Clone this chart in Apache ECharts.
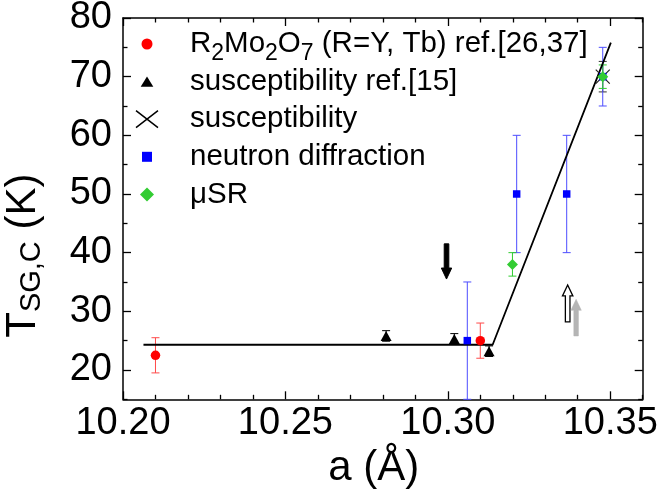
<!DOCTYPE html>
<html><head><meta charset="utf-8">
<script src="https://cdn.jsdelivr.net/npm/echarts@6/dist/echarts.min.js"></script>
<style>html,body{margin:0;padding:0;background:#fff}#c{width:660px;height:504px}</style>
</head><body><div id="c"></div>
<script>
// ---- tick values ----
const xMajorTicks = [10.20, 10.25, 10.30, 10.35];
const xMinorTicks = [10.21, 10.22, 10.23, 10.24, 10.26, 10.27, 10.28, 10.29, 10.31, 10.32, 10.33, 10.34, 10.36];
const yMajorTicks = [20, 30, 40, 50, 60, 70, 80];
const yMinorTicks = [15, 25, 35, 45, 55, 65, 75];

// ---- series names ----
const nameRmo = 'R2Mo2O7 (R=Y, Tb) ref.[26,37]';
const nameSusRef = 'susceptibility ref.[15]';
const nameSus = 'susceptibility';
const nameNeu = 'neutron diffraction';
const nameMusr = '\u03bcSR';

// ---- data: lattice constant a (Å), T (K), error (K) ----
const rmoA = [10.210, 10.310];
const rmoT = [22.5, 25.0];
const rmoErr = [3.0, 3.0];

const susRefA = [10.281, 10.302, 10.3127];
const susRefT = [25.8, 25.3, 23.2];
const susRefErr = [0.9, 0.9, 0.9];

const susA = [10.3477];
const susT = [70];
const susErr = [2.6];

const neuA = [10.306, 10.3212, 10.3366, 10.3477];
const neuT = [25, 50, 50, 70];
const neuErr = [10, 10, 10, 5];

const musrA = [10.3199, 10.3477];
const musrT = [38, 70];
const musrErr = [2, 2];

// guide line
const fitA = [10.2063, 10.3138, 10.3502];
const fitT = [24.3, 24.3, 75.8];

// arrows: a, T at tail, T at tip
const arrowA = [10.2996, 10.3369, 10.3395];
const arrowFrom = [41.5, 28.2, 25.8];
const arrowTo = [35.5, 34.5, 32.05];

// ---- build ----
const FONT = 'Liberation Sans, Arial, sans-serif';
const zip = (a, t, e) => a.map((v, i) => e ? [v, t[i], e[i]] : [v, t[i]]);

function errSeries(a, t, e, color) {
  return {
    type: 'custom', name: 'err', z: 2, silent: true,
    data: zip(a, t, e),
    encode: { x: 0, y: 1 },
    renderItem: function (params, api) {
      const x = api.value(0), y = api.value(1), d = api.value(2);
      const p1 = api.coord([x, y + d]), p2 = api.coord([x, y - d]);
      const hw = 4;
      const st = { stroke: color, lineWidth: 1 };
      return { type: 'group', children: [
        { type: 'line', shape: { x1: p1[0], y1: p1[1], x2: p2[0], y2: p2[1] }, style: st },
        { type: 'line', shape: { x1: p1[0] - hw, y1: p1[1], x2: p1[0] + hw, y2: p1[1] }, style: st },
        { type: 'line', shape: { x1: p2[0] - hw, y1: p2[1], x2: p2[0] + hw, y2: p2[1] }, style: st }
      ]};
    }
  };
}

const arrowStyles = [
  { fill: '#000', stroke: '#000', lineWidth: 1 },
  { fill: '#fff', stroke: '#000', lineWidth: 1.3 },
  { fill: '#b5b5b5', stroke: '#b5b5b5', lineWidth: 0.5 }
];

function axisX(pos, ticks, len, showLine, withLabel) {
  const ax = {
    type: 'value', position: pos, min: 10.20, max: 10.36,
    axisLine: { show: showLine, onZero: false, lineStyle: { color: '#000', width: 1.5 } },
    axisTick: { show: true, inside: true, length: len, customValues: ticks, lineStyle: { color: '#000', width: 1.3 } },
    axisLabel: { show: withLabel, customValues: ticks, formatter: v => v.toFixed(2), fontSize: 38, fontFamily: FONT, color: '#000', margin: 5 },
    splitLine: { show: false }
  };
  if (withLabel) {
    ax.name = 'a (\u00c5)';
    ax.nameLocation = 'middle';
    ax.nameGap = 48;
    ax.nameTextStyle = { fontSize: 42, fontFamily: FONT, color: '#000', padding: [0, 18, 0, 0] };
  }
  return ax;
}
function axisY(pos, ticks, len, showLine, withLabel) {
  const ax = {
    type: 'value', position: pos, min: 15, max: 80,
    axisLine: { show: showLine, onZero: false, lineStyle: { color: '#000', width: 1.5 } },
    axisTick: { show: true, inside: true, length: len, customValues: ticks, lineStyle: { color: '#000', width: 1.3 } },
    axisLabel: { show: withLabel, customValues: ticks, fontSize: 38, fontFamily: FONT, color: '#000', margin: 11 },
    splitLine: { show: false }
  };
  if (withLabel) {
    ax.name = '{a|T}{s|SG,C}{a| (K)}';
    ax.nameLocation = 'middle';
    ax.nameRotate = 90;
    ax.nameGap = 77;
    ax.nameTextStyle = {
      fontFamily: FONT, color: '#000', padding: [0, 94, 0, 0],
      rich: {
        a: { fontSize: 42, lineHeight: 46, fontFamily: FONT, color: '#000' },
        s: { fontSize: 29, lineHeight: 28, verticalAlign: 'bottom', fontFamily: FONT, color: '#000' }
      }
    };
  }
  return ax;
}

const legendItems = [
  { name: nameRmo, icon: 'path://M0 0M63 30M19.5 15A5.5 5.5 0 1 1 30.5 15A5.5 5.5 0 1 1 19.5 15Z' },
  { name: nameSusRef, icon: 'path://M0 0M63 30M25 10L31.3 20.2L18.7 20.2Z' },
  { name: nameSus, icon: 'path://M0 0M63 30M14 6.5L36 23.5M36 6.5L14 23.5',
    itemStyle: { color: 'none', borderColor: '#000', borderWidth: 1.5 } },
  { name: nameNeu, icon: 'path://M0 0M63 30M20 10H30V20H20Z' },
  { name: nameMusr, icon: 'path://M0 0M63 30M25 8L32 15L25 22L18 15Z' }
];
// stroke-only icon has a wider bounding box: compensate its placement
const legendShift = [0, 0, 2.5, 0, 0];
const legendBase = {
  orient: 'vertical', padding: 0,
  itemWidth: 63, itemHeight: 30, itemGap: 0,
  selectedMode: false,
  textStyle: {
    fontSize: 29.5, lineHeight: 30, fontFamily: FONT, color: '#000',
    rich: {
      m: { fontSize: 29.5, lineHeight: 30, verticalAlign: 'middle', fontFamily: FONT, color: '#000' },
      s: { fontSize: 23, lineHeight: 30, verticalAlign: 'top', padding: [13, 0, 0, 0], fontFamily: FONT, color: '#000' }
    }
  },
  formatter: function (name) {
    if (name === nameRmo) return '{m|R}{s|2}{m|Mo}{s|2}{m|O}{s|7}{m| (R=Y, Tb) ref.[26,37]}';
    return '{m|' + name + '}';
  }
};

const chart = echarts.init(document.getElementById('c'), null, { renderer: 'canvas' });
chart.setOption({
  animation: false,
  backgroundColor: '#fff',
  grid: { left: 123, top: 18, width: 519.7, height: 381.3, outerBoundsMode: 'none' },
  xAxis: [
    axisX('bottom', xMajorTicks, 8, true, true),
    axisX('bottom', xMinorTicks, 4.5, false, false),
    axisX('top', xMajorTicks, 8, true, false),
    axisX('top', xMinorTicks, 4.5, false, false)
  ],
  yAxis: [
    axisY('left', yMajorTicks, 8, true, true),
    axisY('left', yMinorTicks, 4.5, false, false),
    axisY('right', yMajorTicks, 8, true, false),
    axisY('right', yMinorTicks, 4.5, false, false)
  ],
  legend: legendItems.map((it, k) => Object.assign({}, legendBase, {
    left: 122 - legendShift[k], top: 29 + k * 37.6 - legendShift[k], data: [it] })),
  series: [
    { type: 'line', name: 'fit', data: zip(fitA, fitT), showSymbol: false, silent: true, z: 2,
      lineStyle: { color: '#000', width: 1.8 } },
    errSeries(rmoA, rmoT, rmoErr, '#ff4a4a'),
    errSeries(susRefA, susRefT, susRefErr, '#000'),
    errSeries(susA, susT, susErr, '#333'),
    errSeries(neuA, neuT, neuErr, '#4d4dff'),
    errSeries(musrA, musrT, musrErr, '#2ecc2e'),
    { type: 'scatter', name: nameRmo, data: zip(rmoA, rmoT), symbol: 'circle', symbolSize: 9.5, z: 3,
      itemStyle: { color: '#ff0000', opacity: 1 } },
    { type: 'scatter', name: nameSusRef, data: zip(susRefA, susRefT), symbol: 'triangle', symbolSize: [11, 10], z: 3,
      itemStyle: { color: '#000', opacity: 1 } },
    { type: 'scatter', name: nameSus, data: zip(susA, susT), symbol: 'path://M0 0L10 10M10 0L0 10', symbolSize: 14, z: 3,
      itemStyle: { color: 'none', borderColor: '#222', borderWidth: 1.2, opacity: 1 } },
    { type: 'scatter', name: nameNeu, data: zip(neuA, neuT), symbol: 'rect', symbolSize: 7.5, z: 3,
      itemStyle: { color: '#0000ff', opacity: 1 } },
    { type: 'scatter', name: nameMusr, data: zip(musrA, musrT), symbol: 'diamond', symbolSize: 11, z: 3,
      itemStyle: { color: '#33cc33', opacity: 1 } },
    { type: 'custom', name: 'arrows', z: 4, silent: true,
      data: arrowA.map((a, i) => [a, arrowFrom[i], arrowTo[i]]),
      encode: { x: 0, y: [1, 2] },
      renderItem: function (params, api) {
        const x = api.value(0);
        const p0 = api.coord([x, api.value(1)]);
        const p1 = api.coord([x, api.value(2)]);
        const dir = p1[1] > p0[1] ? 1 : -1;
        const sw = 2.3, hw = 5.2, hl = 11;
        const cx = p0[0], neck = p1[1] - dir * hl;
        return { type: 'polygon',
          shape: { points: [[cx - sw, p0[1]], [cx + sw, p0[1]], [cx + sw, neck], [cx + hw, neck], [cx, p1[1]], [cx - hw, neck], [cx - sw, neck]] },
          style: arrowStyles[params.dataIndex] };
      }
    }
  ]
});
</script>
</body></html>
